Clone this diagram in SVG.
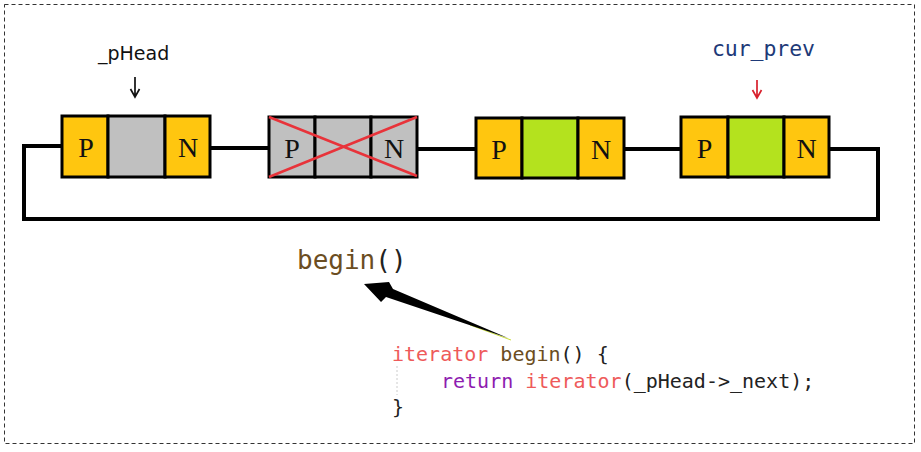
<svg xmlns="http://www.w3.org/2000/svg" width="921" height="452" viewBox="0 0 921 452">
<style>
.cell{stroke:#000;stroke-width:3}
.y{fill:#FFC60F}
.g{fill:#C0C0C0}
.l{fill:#B4E21E}
.pn{font-family:"Liberation Serif","Times New Roman",serif;font-size:28px;text-anchor:middle;fill:#111}
.wire{fill:none;stroke:#000;stroke-width:4}
.mono{font-family:"DejaVu Sans Mono","Liberation Mono",monospace}
.kw{fill:#EE5A5A}
.ret{fill:#8E1CB0}
.fn{fill:#6B4D22}
.pl{fill:#222}
</style>
<rect width="921" height="452" fill="#fff"/>
<rect x="4.5" y="4.5" width="910" height="439" fill="none" stroke="#333" stroke-width="1" stroke-dasharray="4,3"/>

<g id="connectors">
<path class="wire" d="M62,146 H24 V219 H878 V149 H829"/>
<path class="wire" d="M210,148 H269"/>
<path class="wire" d="M417,149 H476"/>
<path class="wire" d="M624,149 H681"/>
<line x1="470" y1="325" x2="511" y2="340" stroke="#C8DC3A" stroke-width="1"/>
<polygon points="364,284 389,282 393,289 508,338 386,297 381,302" fill="#000"/>
</g>

<g id="pHead-label">
<text x="98" y="60" font-family="DejaVu Sans,Verdana,sans-serif" font-size="19" fill="#111">_pHead</text>
<path d="M135,77 V97 M130.5,89 L135,97 L139.5,89" fill="none" stroke="#111" stroke-width="1.7"/>
</g>

<g id="cur_prev-label">
<text x="712" y="56" class="mono" font-size="21.5" fill="#1E3A78" textLength="103">cur_prev</text>
<path d="M757,80 V98 M752.5,90 L757,98 L761.5,90" fill="none" stroke="#D8202C" stroke-width="1.7"/>
</g>

<g id="node1">
<rect class="cell y" x="62" y="116" width="46" height="61"/>
<rect class="cell g" x="108" y="116" width="57" height="61"/>
<rect class="cell y" x="165" y="116" width="45" height="61"/>
<text class="pn" x="86" y="157">P</text>
<text class="pn" x="188" y="157">N</text>
</g>

<g id="node2">
<rect class="cell g" x="269" y="117" width="46" height="60"/>
<rect class="cell g" x="315" y="117" width="56" height="60"/>
<rect class="cell g" x="371" y="117" width="46" height="60"/>
<text class="pn" x="292" y="158" fill="#2a2200">P</text>
<text class="pn" x="394" y="158">N</text>
<path d="M269,117 L417,176 M269,177 L417,117" stroke="#E8333A" stroke-width="2.5" fill="none"/>
</g>

<g id="node3">
<rect class="cell y" x="476" y="118" width="46" height="60"/>
<rect class="cell l" x="522" y="118" width="56" height="60"/>
<rect class="cell y" x="578" y="118" width="46" height="60"/>
<text class="pn" x="499" y="159">P</text>
<text class="pn" x="601" y="159">N</text>
</g>

<g id="node4">
<rect class="cell y" x="681" y="117" width="47" height="60"/>
<rect class="cell l" x="728" y="117" width="56" height="60"/>
<rect class="cell y" x="784" y="117" width="45" height="60"/>
<text class="pn" x="704.5" y="158">P</text>
<text class="pn" x="806.5" y="158">N</text>
</g>

<g id="begin-label">
<text x="297" y="269" class="mono" font-size="26"><tspan class="fn">begin</tspan><tspan class="pl">()</tspan></text>
</g>

<g id="code">
<line x1="397" y1="366" x2="397" y2="395" stroke="#ccc" stroke-width="1" stroke-dasharray="2,2"/>
<text x="392" y="361" class="mono" font-size="20"><tspan class="kw">iterator</tspan><tspan class="fn"> begin</tspan><tspan class="pl">() {</tspan></text>
<text x="441" y="388" class="mono" font-size="20"><tspan class="ret">return</tspan><tspan class="kw"> iterator</tspan><tspan class="pl">(_pHead-&gt;_next);</tspan></text>
<text x="392" y="414" class="mono pl" font-size="20">}</text>
</g>
</svg>
